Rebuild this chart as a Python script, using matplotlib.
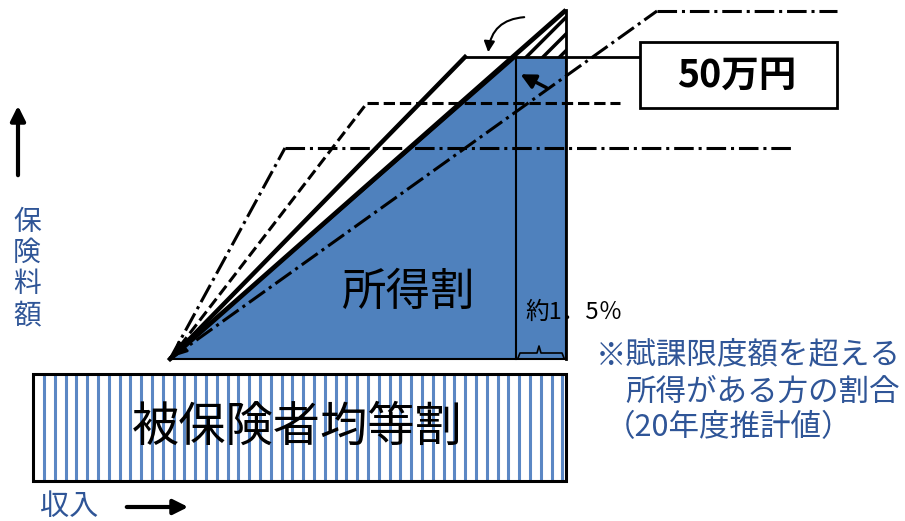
import numpy as np
import matplotlib.pyplot as plt
from matplotlib.patches import Polygon, Rectangle

plt.rcParams['font.family'] = ['Noto Sans CJK JP', 'DejaVu Sans']
plt.rcParams['hatch.linewidth'] = 2.5

# diagram geometry in pixel units (y grows downward)
origin = (170, 359)
tri_top = (516, 57)          # where the income-share line meets the cap
right_x = 566                # right edge of the blue block
new_line_end = (566, 10)     # thick line running past the cap
cap_y = 57                   # 50万円 cap level

# other limit lines: corner point, end of horizontal run, style
limit_corner = [(465, 57), (367, 103), (285, 148), (657, 11)]
limit_end_x = [640, 620, 792, 837]
limit_style = ['solid', 'dashed', 'dashdot', 'dashdot']
limit_width = [3.2, 2.2, 2.2, 2.2]

base_box = (33, 374, 566, 481)   # 被保険者均等割 box: x0, y0, x1, y1
stripe_step = 10.8

blue = '#4f81bd'
text_blue = '#2f5597'

fig = plt.figure(figsize=(9.05, 5.21), dpi=100)
ax = fig.add_axes([0, 0, 1, 1])
ax.set_xlim(0, 905)
ax.set_ylim(521, 0)
ax.axis('off')

# blue income-share region
ax.add_patch(Polygon([origin, tri_top, (right_x, cap_y), (right_x, origin[1])],
                     closed=True, facecolor=blue, edgecolor='black', lw=1.5, zorder=1))
ax.plot([tri_top[0], tri_top[0]], [cap_y, origin[1]], color='black', lw=1.5, zorder=2)
# hatched part above the cap
ax.add_patch(Polygon([tri_top, new_line_end, (right_x, cap_y)], closed=True,
                     facecolor='white', edgecolor='black', hatch='//', lw=0, zorder=1))
ax.plot([right_x, right_x], [new_line_end[1], origin[1]], color='black', lw=2, zorder=3)

# thick line (new)
ax.plot([origin[0], new_line_end[0]], [origin[1], new_line_end[1]],
        color='black', lw=3.4, solid_capstyle='butt', zorder=3)

# older limit lines
for (cx, cy), ex, ls, w in zip(limit_corner, limit_end_x, limit_style, limit_width):
    ax.plot([origin[0], cx], [origin[1], cy], color='black', lw=w, ls=ls, zorder=3)
    ax.plot([cx, ex], [cy, cy], color='black', lw=w if ls != 'solid' else 2.0, ls=ls, zorder=3)

# arrowhead at the origin
ax.annotate('', xy=origin, xytext=(195, 335),
            arrowprops=dict(arrowstyle='-|>', color='black', lw=2, mutation_scale=22), zorder=4)

# arrows near the cap
ax.annotate('', xy=(488, 55), xytext=(527, 17),
            arrowprops=dict(arrowstyle='-|>', color='black', lw=1.5, mutation_scale=16,
                            connectionstyle='arc3,rad=0.45'), zorder=4)
ax.annotate('', xy=(518, 73), xytext=(549, 89),
            arrowprops=dict(arrowstyle='-|>', color='black', lw=2.5, mutation_scale=22), zorder=4)

# brace under the 1.5% strip
bx = [518, 520, 537, 539, 541, 562, 564]
by = [358, 353, 353, 346, 353, 353, 358]
ax.plot(bx, by, color='black', lw=1.2, zorder=3)

# 50万円 box
ax.add_patch(Rectangle((640, 42), 197, 66, facecolor='white', edgecolor='black', lw=2, zorder=3))
ax.text(737, 75, '50万円', ha='center', va='center', fontsize=27, fontweight='bold', zorder=4)

# labels
ax.text(408, 292, '所得割', ha='center', va='center', fontsize=32, zorder=4)
ax.text(525, 312, '約1．5％', ha='left', va='center', fontsize=17, zorder=4)

note_lines = ['※賦課限度額を超える', '所得がある方の割合', '（20年度推計値）']
note_x = [596, 625, 605]
note_y = [355, 392, 428]
for s, x, y in zip(note_lines, note_x, note_y):
    ax.text(x, y, s, ha='left', va='center', fontsize=22, color=text_blue)

# striped base box
x0, y0, x1, y1 = base_box
ax.vlines(np.arange(x0 + 11, x1, stripe_step), y0, y1, color='#5b87c4', lw=2.2, zorder=1)
ax.add_patch(Rectangle((x0, y0), x1 - x0, y1 - y0, facecolor='none', edgecolor='black', lw=2.2, zorder=2))
ax.text(297, 428, '被保険者均等割', ha='center', va='center', fontsize=34, zorder=4)

# axes labels and arrows
ax.annotate('', xy=(18, 103), xytext=(18, 178),
            arrowprops=dict(arrowstyle='-|>', color='black', lw=3, mutation_scale=22))
for i, ch in enumerate('保険料額'):
    ax.text(27, 222 + i * 31, ch, ha='center', va='center', fontsize=20, color=text_blue)

ax.text(40, 507, '収入', ha='left', va='center', fontsize=21, color=text_blue)
ax.annotate('', xy=(191, 507), xytext=(124, 507),
            arrowprops=dict(arrowstyle='-|>', color='black', lw=3, mutation_scale=22))

fig.savefig('out.png', dpi=100)
